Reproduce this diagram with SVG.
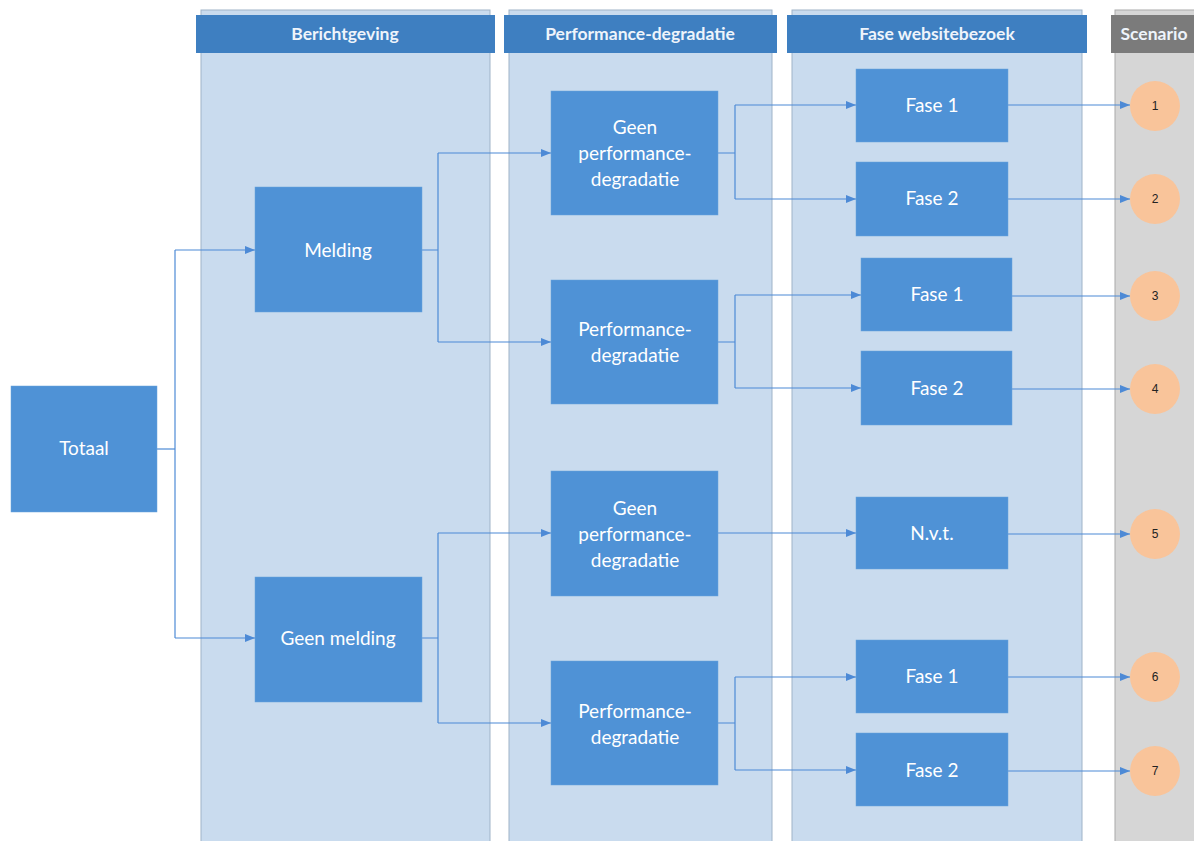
<svg xmlns="http://www.w3.org/2000/svg" width="1194" height="841" viewBox="0 0 1194 841">
<style>
.lane{fill:#c9dbee;stroke:#9fb3c8;stroke-width:1}
.lane2{fill:#d6d6d6;stroke:#a9a9a9;stroke-width:1}
.hdr{fill:#3e7fc1}
.hdr2{fill:#7b7b7b}
.htx{font-family:Lato,"Liberation Sans",sans-serif;font-size:17.5px;font-weight:bold;fill:#eef4fb;text-anchor:middle}
.box{fill:#4f92d6;stroke:#6aa2dc;stroke-width:0.5}
.btx{font-family:Lato,"Liberation Sans",sans-serif;font-size:19px;fill:#ffffff;text-anchor:middle}
.cir{fill:#f9c49a}
.ctx{font-family:"Liberation Sans",sans-serif;font-size:12px;fill:#222;text-anchor:middle}
.con{fill:none;stroke:#4d8ad6;stroke-width:1.2}
</style>
<defs>
<marker id="ah" markerWidth="10" markerHeight="8" refX="10" refY="4" orient="auto" markerUnits="userSpaceOnUse">
<path d="M0,0 L10,4 L0,8 Z" fill="#4d8ad6"/>
</marker>
</defs>
<rect width="1194" height="841" fill="#ffffff"/>
<g id="lanes">
<rect class="lane" x="201" y="10" width="289" height="840"/>
<rect class="lane" x="509" y="10" width="263" height="840"/>
<rect class="lane" x="792" y="10" width="290" height="840"/>
<rect class="lane2" x="1115" y="10" width="90" height="840"/>
<rect class="hdr" x="196" y="15" width="299" height="38"/>
<rect class="hdr" x="504" y="15" width="273" height="38"/>
<rect class="hdr" x="787" y="15" width="300" height="38"/>
<rect class="hdr2" x="1111" y="15" width="90" height="38"/>
<text class="htx" x="345" y="40">Berichtgeving</text>
<text class="htx" x="640" y="40">Performance-degradatie</text>
<text class="htx" x="937" y="40">Fase websitebezoek</text>
<text class="htx" x="1154" y="40">Scenario</text>
</g>
<g id="connectors">
<path class="con" d="M157,449 H175"/>
<path class="con" d="M175,250 V638"/>
<path class="con" d="M175,250 H255" marker-end="url(#ah)"/>
<path class="con" d="M175,638 H255" marker-end="url(#ah)"/>
<path class="con" d="M422,250 H438 M438,153 V342"/>
<path class="con" d="M438,153 H551" marker-end="url(#ah)"/>
<path class="con" d="M438,342 H551" marker-end="url(#ah)"/>
<path class="con" d="M422,638 H438 M438,533 V723"/>
<path class="con" d="M438,533 H551" marker-end="url(#ah)"/>
<path class="con" d="M438,723 H551" marker-end="url(#ah)"/>
<path class="con" d="M718,153 H735 M735,105 V199"/>
<path class="con" d="M735,105 H856" marker-end="url(#ah)"/>
<path class="con" d="M735,199 H856" marker-end="url(#ah)"/>
<path class="con" d="M718,342 H735 M735,295 V388"/>
<path class="con" d="M735,295 H861" marker-end="url(#ah)"/>
<path class="con" d="M735,388 H861" marker-end="url(#ah)"/>
<path class="con" d="M718,533 H856" marker-end="url(#ah)"/>
<path class="con" d="M718,723 H735 M735,677 V770"/>
<path class="con" d="M735,677 H856" marker-end="url(#ah)"/>
<path class="con" d="M735,770 H856" marker-end="url(#ah)"/>
<path class="con" d="M1008,105 H1130" marker-end="url(#ah)"/>
<path class="con" d="M1008,199 H1130" marker-end="url(#ah)"/>
<path class="con" d="M1012,296 H1130" marker-end="url(#ah)"/>
<path class="con" d="M1012,389 H1130" marker-end="url(#ah)"/>
<path class="con" d="M1008,534 H1130" marker-end="url(#ah)"/>
<path class="con" d="M1008,677 H1130" marker-end="url(#ah)"/>
<path class="con" d="M1008,771 H1130" marker-end="url(#ah)"/>
</g>
<g id="totaal"><rect class="box" x="11" y="386" width="146" height="126"/><text class="btx" x="84" y="455">Totaal</text></g>
<g id="melding"><rect class="box" x="255" y="187" width="167" height="125"/><text class="btx" x="338" y="257">Melding</text></g>
<g id="geen-melding"><rect class="box" x="255" y="577" width="167" height="125"/><text class="btx" x="338" y="645">Geen melding</text></g>
<g id="gpd1"><rect class="box" x="551" y="91" width="167" height="124"/><text class="btx" x="635" y="134">Geen</text><text class="btx" x="635" y="160">performance-</text><text class="btx" x="635" y="186">degradatie</text></g>
<g id="pd1"><rect class="box" x="551" y="280" width="167" height="124"/><text class="btx" x="635" y="336">Performance-</text><text class="btx" x="635" y="362">degradatie</text></g>
<g id="gpd2"><rect class="box" x="551" y="471" width="167" height="125"/><text class="btx" x="635" y="515">Geen</text><text class="btx" x="635" y="541">performance-</text><text class="btx" x="635" y="567">degradatie</text></g>
<g id="pd2"><rect class="box" x="551" y="661" width="167" height="124"/><text class="btx" x="635" y="718">Performance-</text><text class="btx" x="635" y="744">degradatie</text></g>
<g id="f1a"><rect class="box" x="856" y="69" width="152" height="73"/><text class="btx" x="932" y="112">Fase 1</text></g>
<g id="f2a"><rect class="box" x="856" y="162" width="152" height="74"/><text class="btx" x="932" y="205">Fase 2</text></g>
<g id="f1b"><rect class="box" x="861" y="258" width="151" height="73"/><text class="btx" x="937" y="301">Fase 1</text></g>
<g id="f2b"><rect class="box" x="861" y="351" width="151" height="74"/><text class="btx" x="937" y="395">Fase 2</text></g>
<g id="nvt"><rect class="box" x="856" y="497" width="152" height="72"/><text class="btx" x="932" y="540">N.v.t.</text></g>
<g id="f1c"><rect class="box" x="856" y="640" width="152" height="73"/><text class="btx" x="932" y="683">Fase 1</text></g>
<g id="f2c"><rect class="box" x="856" y="733" width="152" height="73"/><text class="btx" x="932" y="777">Fase 2</text></g>
<g id="s1"><circle class="cir" cx="1155" cy="106" r="25"/><text class="ctx" x="1155" y="110">1</text></g>
<g id="s2"><circle class="cir" cx="1155" cy="199" r="25"/><text class="ctx" x="1155" y="203">2</text></g>
<g id="s3"><circle class="cir" cx="1155" cy="296" r="25"/><text class="ctx" x="1155" y="300">3</text></g>
<g id="s4"><circle class="cir" cx="1155" cy="389" r="25"/><text class="ctx" x="1155" y="393">4</text></g>
<g id="s5"><circle class="cir" cx="1155" cy="534" r="25"/><text class="ctx" x="1155" y="538">5</text></g>
<g id="s6"><circle class="cir" cx="1155" cy="677" r="25"/><text class="ctx" x="1155" y="681">6</text></g>
<g id="s7"><circle class="cir" cx="1155" cy="771" r="25"/><text class="ctx" x="1155" y="775">7</text></g>
</svg>
